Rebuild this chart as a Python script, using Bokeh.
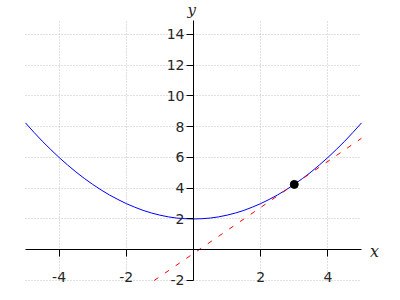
from bokeh.plotting import figure
from bokeh.models import LinearAxis, FixedTicker, Label, Range1d
from bokeh.embed import file_html
from bokeh.resources import INLINE

# Data
curve_x = [-5.0, -4.75, -4.5, -4.25, -4.0, -3.75, -3.5, -3.25, -3.0, -2.75, -2.5,
           -2.25, -2.0, -1.75, -1.5, -1.25, -1.0, -0.75, -0.5, -0.25, 0.0,
           0.25, 0.5, 0.75, 1.0, 1.25, 1.5, 1.75, 2.0, 2.25, 2.5, 2.75, 3.0,
           3.25, 3.5, 3.75, 4.0, 4.25, 4.5, 4.75, 5.0]
curve_y = [8.25, 7.64, 7.06, 6.52, 6.0, 5.52, 5.06, 4.64, 4.25, 3.89, 3.56,
           3.27, 3.0, 2.77, 2.56, 2.39, 2.25, 2.14, 2.06, 2.02, 2.0,
           2.02, 2.06, 2.14, 2.25, 2.39, 2.56, 2.77, 3.0, 3.27, 3.56, 3.89, 4.25,
           4.64, 5.06, 5.52, 6.0, 6.52, 7.06, 7.64, 8.25]
tangent_x = [-1.17, 5.0]
tangent_y = [-2.0, 7.25]
point_x = [3.0]
point_y = [4.25]
x_ticks = [-4, -2, 2, 4]
y_ticks = [-2, 2, 4, 6, 8, 10, 12, 14]
x_bounds = (-5, 5)
y_bounds = (-2, 14.91)

p = figure(width=400, height=300, output_backend="svg", toolbar_location=None,
           x_range=Range1d(-5.744, 6.161), y_range=Range1d(-3.301, 16.211),
           x_axis_location=None, y_axis_location=None,
           min_border=0)
p.outline_line_color = None
p.background_fill_color = "white"
p.border_fill_color = "white"

for axis_kind, loc in (("x", "below"), ("y", "left")):
    ticks = x_ticks if axis_kind == "x" else y_ticks
    ax = LinearAxis(fixed_location=0)
    ax.ticker = FixedTicker(ticks=ticks)
    ax.major_label_overrides = {t: str(t) for t in ticks}
    ax.bounds = x_bounds if axis_kind == "x" else y_bounds
    ax.axis_line_color = "black"
    ax.axis_line_width = 1
    ax.major_tick_line_color = "black"
    ax.major_tick_in = 0
    ax.major_tick_out = 7
    ax.minor_tick_line_color = None
    ax.major_label_text_font = "DejaVu Sans"
    ax.major_label_text_font_size = "14px"
    ax.major_label_text_color = "#262626"
    ax.major_label_standoff = 15 if axis_kind == "x" else 2
    p.add_layout(ax, loc)

p.xgrid.ticker = FixedTicker(ticks=x_ticks)
p.ygrid.ticker = FixedTicker(ticks=y_ticks)
p.xgrid.cross_bounds = y_bounds
p.ygrid.cross_bounds = x_bounds
for g in (p.xgrid, p.ygrid):
    g.grid_line_color = "#c0c0c0"
    g.grid_line_dash = "1 2"
    g.grid_line_width = 1

p.line(curve_x, curve_y, line_color="#0000ff", line_width=1)
p.line(tangent_x, tangent_y, line_color="#ff0000", line_width=1, line_dash="5 8")
p.scatter(point_x, point_y, size=8, color="black")

p.add_layout(Label(x=5.39, y=-0.13, text="x", text_font="DejaVu Serif",
                   text_font_style="italic", text_font_size="16px",
                   text_align="center", text_baseline="alphabetic", text_color="#262626"))
p.add_layout(Label(x=-0.05, y=16.18, text="y", text_font="DejaVu Serif",
                   text_font_style="italic", text_font_size="15px",
                   text_align="center", text_baseline="top", text_color="#262626"))

open("out.html", "w").write(file_html(p, INLINE))
